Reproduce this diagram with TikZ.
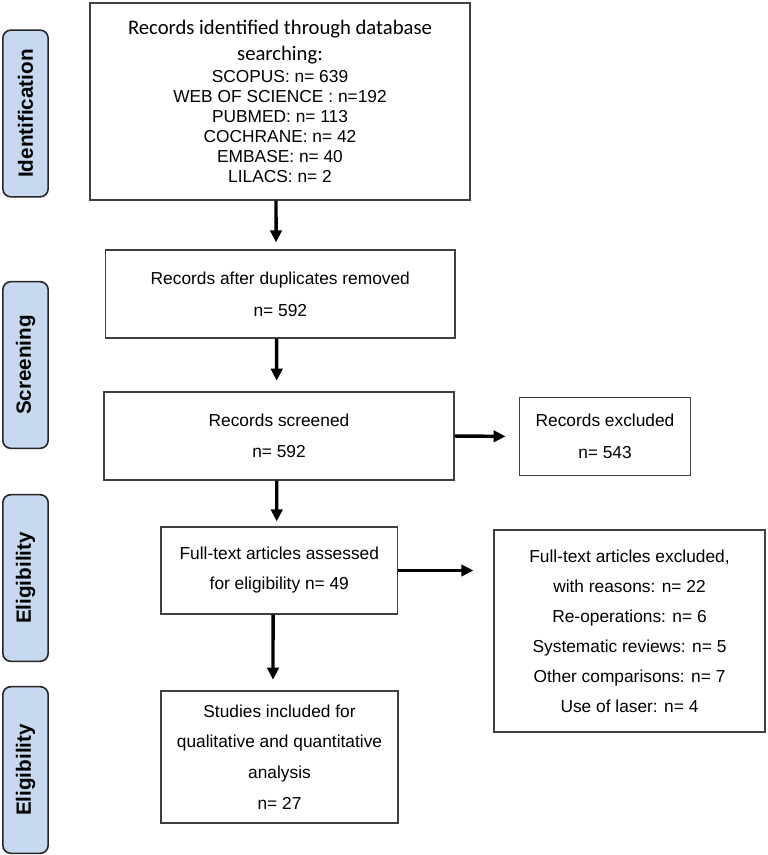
\documentclass[tikz,border=0pt]{standalone}
\usepackage{fontspec}
\setmainfont{Liberation Sans}
\newfontfamily\calibrifont{Carlito}
\usetikzlibrary{arrows.meta}
\definecolor{phaseblue}{HTML}{C6D9F1}

\begin{document}
\begin{tikzpicture}[x=0.75pt, y=-0.75pt,
    every node/.style={font=\fontsize{13}{22.5}\selectfont},
    box/.style={draw=black!75, line width=0.9pt, align=center, inner sep=0pt},
    phase/.style={draw=black!85, fill=phaseblue, line width=1.2pt, rounded corners=6pt,
        rotate=90, minimum width=125pt, minimum height=34pt, inner sep=0pt,
        font=\fontsize{15.5}{18}\selectfont\bfseries},
    flow/.style={line width=2.6pt, -{Triangle[length=9pt, width=8.5pt]}}]
    \useasboundingbox (0,0) rectangle (767,855);

    % phases
    \node[phase] (ident) at (25.5,113.5) {Identification};
    \node[phase] (screen) at (25.5,365) {Screening};
    \node[phase] (elig) at (25.5,578) {Eligibility};
    \node[phase] (incl) at (25.5,770) {Eligibility};

    % boxes
    \node[box, minimum width=285pt, minimum height=147.75pt, font=\fontsize{13}{15}\selectfont] (idb) at (280,101.5)
        {{\calibrifont\fontsize{15.5}{19.5}\selectfont Records identified through database}\\[4.5pt]
         {\calibrifont\fontsize{15.5}{19.5}\selectfont searching:}\\[1.5pt]
         SCOPUS: n= 639\\ WEB OF SCIENCE : n=192\\ PUBMED: n= 113\\
         COCHRANE: n= 42\\ EMBASE: n= 40\\ LILACS: n= 2};
    \node[box, minimum width=262pt, minimum height=66pt, font=\fontsize{13}{24}\selectfont] (dup) at (280.3,294)
        {Records after duplicates removed\\ n= 592};
    \node[box, minimum width=262.5pt, minimum height=66pt, font=\fontsize{13}{23.5}\selectfont] (scr) at (279,436)
        {Records screened\\ n= 592};
    \node[box, minimum width=128.25pt, minimum height=58.5pt, font=\fontsize{13}{24}\selectfont] (excl) at (605,436.5)
        {Records excluded\\ n= 543};
    \node[box, minimum width=177.4pt, minimum height=65.25pt] (full) at (279.3,570.5)
        {Full-text articles assessed\\ for eligibility n= 49};
    \node[box, minimum width=203.25pt, minimum height=151.5pt] (fexcl) at (629.5,631)
        {Full-text articles excluded,\\ with reasons: n= 22\\ Re-operations: n= 6\\
         Systematic reviews: n= 5\\ Other comparisons: n= 7\\ Use of laser: n= 4};
    \node[box, minimum width=177.75pt, minimum height=99pt, font=\fontsize{13}{23}\selectfont] (stud) at (279.5,757)
        {Studies included for\\ qualitative and quantitative\\ analysis\\ n= 27};

    % arrows
    \draw[flow, shorten >=5.25pt] ([xshift=-3pt]idb.south) -- ([xshift=-3.2pt]dup.north);
    \draw[flow, shorten >=8pt] ([xshift=-2.7pt]dup.south) -- ([xshift=-1.7pt]scr.north);
    \draw[flow, shorten >=3.75pt] ([xshift=-1.7pt]scr.south) -- ([xshift=-1.9pt]full.north);
    \draw[flow, shorten >=8pt] ([xshift=-4.7pt]full.south) -- ([xshift=-4.9pt]stud.north);
    \draw[flow, shorten >=10pt] (scr.east) -- (excl.west);
    \draw[flow, shorten >=15pt] (full.east) -- (full.east -| fexcl.west);
\end{tikzpicture}
\end{document}
